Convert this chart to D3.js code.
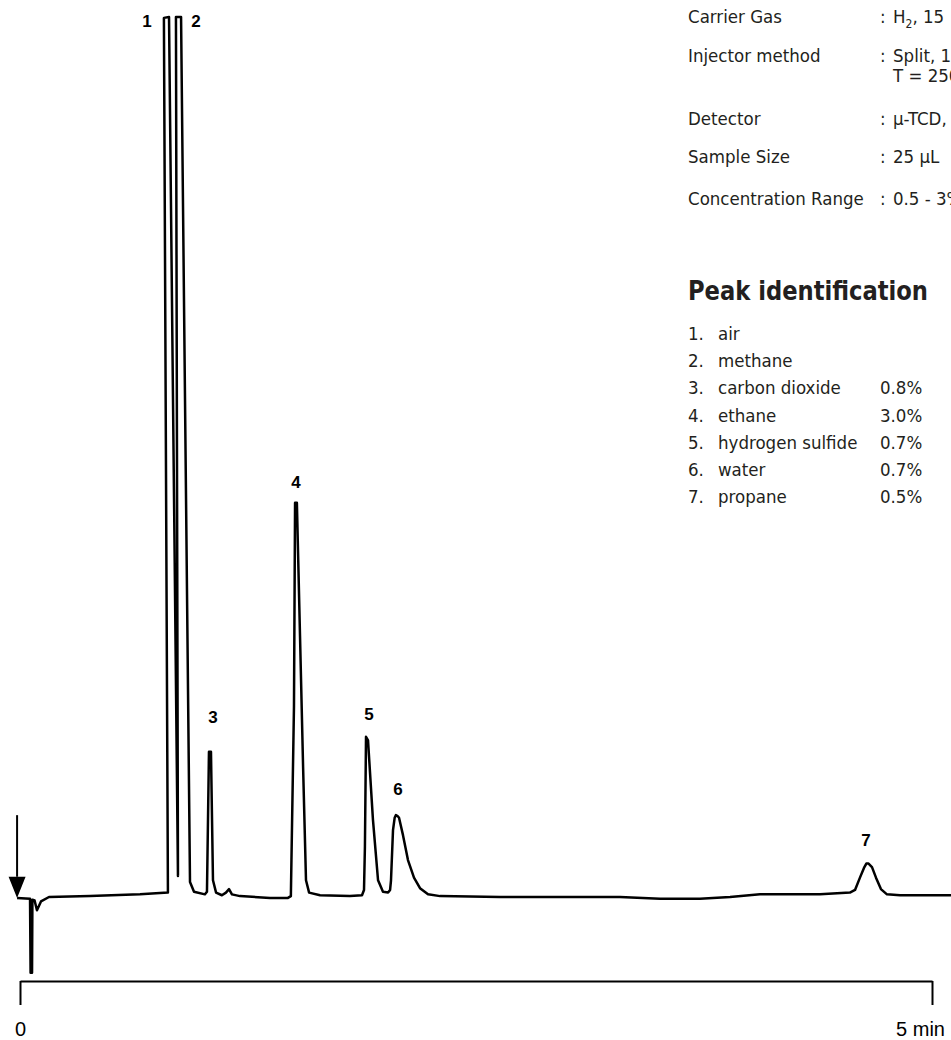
<!DOCTYPE html>
<html>
<head>
<meta charset="utf-8">
<script src="https://cdn.jsdelivr.net/npm/d3@7"></script>
<style>
  body { margin: 0; background: #fff; }
  .info { font-family: "DejaVu Sans Condensed", "Liberation Sans Narrow", sans-serif; fill: #231f20; }
  .peaklbl { font-family: "Liberation Sans", Arial, sans-serif; fill: #000; }
</style>
</head>
<body>
<div id="chart"></div>
<script>
// chromatogram trace: [time (min), signal (% of full scale)]
var trace = [
  [-0.016, -0.1], [0.055, -0.2], [0.058, -8.6], [0.066, -8.6], [0.068, -0.3],
  [0.080, -0.4], [0.093, -1.5], [0.115, -0.5], [0.159, 0.0], [0.384, 0.1],
  [0.658, 0.3], [0.811, 0.5], [0.789, 99.9], [0.817, 100], [0.866, 2.4],
  [0.855, 100], [0.883, 100], [0.932, 1.7], [0.954, 0.6], [1.014, 0.3],
  [1.025, 0.6], [1.036, 16.5], [1.047, 16.5], [1.058, 1.9], [1.075, 0.5],
  [1.107, 0.2], [1.129, 0.5], [1.146, 0.9], [1.162, 0.3], [1.206, 0.1],
  [1.371, -0.1], [1.469, -0.1], [1.485, 0.1], [1.502, 21.6], [1.508, 44.8],
  [1.518, 44.8], [1.552, 14.8], [1.568, 1.9], [1.585, 0.5], [1.645, 0.2],
  [1.809, 0.1], [1.875, 0.2], [1.886, 0.8], [1.891, 5.7], [1.897, 18.2],
  [1.908, 17.8], [1.935, 8.8], [1.963, 1.9], [1.990, 0.6], [2.018, 0.5],
  [2.029, 0.8], [2.034, 1.9], [2.045, 7.6], [2.054, 9.0], [2.061, 9.3],
  [2.070, 9.2], [2.078, 9.0], [2.100, 7.0], [2.127, 4.2], [2.160, 2.2],
  [2.193, 1.0], [2.237, 0.3], [2.303, 0.1], [2.632, 0.0], [2.961, 0.0],
  [3.289, 0.0], [3.509, -0.2], [3.728, -0.2], [3.893, 0.0], [4.057, 0.3],
  [4.386, 0.3], [4.550, 0.5], [4.578, 0.8], [4.605, 2.2], [4.627, 3.3],
  [4.640, 3.8], [4.652, 3.8], [4.671, 3.4], [4.693, 2.2], [4.720, 0.9],
  [4.753, 0.3], [4.825, 0.2], [5.104, 0.2]
];

// peak number labels
var peakNames = ["1", "2", "3", "4", "5", "6", "7"];
var peakLabelTime = [0.696, 0.965, 1.058, 1.513, 1.913, 2.072, 4.638];
var peakLabelSignal = [99.5, 99.5, 20.5, 47.2, 20.8, 12.3, 6.5];

// injection marker
var injectTime = -0.016;
var injectTop = 9.3, injectHead = 2.3, injectTip = -0.1;

// time axis
var axisTicks = [0, 5];
var axisTickLabels = ["0", "5 min"];

// conditions table (values run off the right edge in the original)
var condLabels = ["Carrier Gas", "Injector method", "", "Detector", "Sample Size", "Concentration Range"];
var condValues = ["H|2|, 15", "Split, 1", "T = 250", "µ-TCD,", "25 µL", "0.5 - 3%"];

// peak identification list
var compounds = ["air", "methane", "carbon dioxide", "ethane", "hydrogen sulfide", "water", "propane"];
var concentrations = ["", "", "0.8%", "3.0%", "0.7%", "0.7%", "0.5%"];

var W = 951, H = 1040;
var condBaselines = [23, 62, 82, 125, 163, 205];

var x = d3.scaleLinear().domain([0, 5]).range([20, 932]);
var y = d3.scaleLinear().domain([0, 100]).range([897, 17]);

var svg = d3.select("#chart").append("svg")
    .attr("width", W)
    .attr("height", H);

// trace
var line = d3.line()
    .x(function(d) { return x(d[0]); })
    .y(function(d) { return y(d[1]); });

svg.append("path")
    .datum(trace)
    .attr("d", line)
    .attr("fill", "none")
    .attr("stroke", "#000")
    .attr("stroke-width", 2.5)
    .attr("stroke-linejoin", "round");

// injection arrow
var ax = x(injectTime);
svg.append("line")
    .attr("x1", ax).attr("x2", ax)
    .attr("y1", y(injectTop)).attr("y2", y(injectHead))
    .attr("stroke", "#000").attr("stroke-width", 2);
svg.append("path")
    .attr("d", "M" + (ax - 8.5) + "," + y(injectHead) + "L" + (ax + 8.5) + "," + y(injectHead) + "L" + ax + "," + y(injectTip) + "Z")
    .attr("fill", "#000");

// peak labels
svg.selectAll(".peaklbl")
    .data(peakNames)
  .enter().append("text")
    .attr("class", "peaklbl")
    .attr("x", function(d, i) { return x(peakLabelTime[i]); })
    .attr("y", function(d, i) { return y(peakLabelSignal[i]); })
    .attr("dy", "0.35em")
    .attr("text-anchor", "middle")
    .style("font-size", "17px")
    .style("font-weight", "bold")
    .text(function(d) { return d; });

// time axis (bracket)
var xAxis = svg.append("g")
    .attr("transform", "translate(0,981)")
    .call(d3.axisBottom(x).tickValues(axisTicks).tickSizeInner(24).tickSizeOuter(0)
      .tickFormat(function(d, i) { return axisTickLabels[i]; }));
xAxis.select(".domain").attr("stroke", "#000").attr("stroke-width", 2);
xAxis.selectAll(".tick line").attr("stroke", "#000").attr("stroke-width", 2);
xAxis.selectAll(".tick text")
    .attr("class", "peaklbl")
    .attr("y", 48)
    .attr("dy", "0.35em")
    .attr("dx", function(d, i) { return i === 1 ? -12 : 0; })
    .style("font-size", "20px")
    .attr("fill", "#000");

// conditions
var cond = svg.append("g").attr("class", "info").style("font-size", "18.5px");
condLabels.forEach(function(lbl, i) {
  var yy = condBaselines[i];
  if (lbl) {
    cond.append("text").attr("x", 688).attr("y", yy).text(lbl);
    cond.append("text").attr("x", 880).attr("y", yy).text(":");
  }
  var parts = condValues[i].split("|");
  var t = cond.append("text").attr("x", 893).attr("y", yy);
  t.append("tspan").text(parts[0]);
  if (parts.length > 1) {
    t.append("tspan").attr("dy", 5).style("font-size", "12px").text(parts[1]);
    t.append("tspan").attr("dy", -5).text(parts[2]);
  }
});

// peak identification
svg.append("text")
    .attr("class", "info")
    .attr("x", 688).attr("y", 300)
    .attr("textLength", 240)
    .attr("lengthAdjust", "spacingAndGlyphs")
    .style("font-size", "27px")
    .style("font-weight", "bold")
    .text("Peak identification");

var list = svg.append("g").attr("class", "info").style("font-size", "18.5px");
compounds.forEach(function(c, i) {
  var yy = 340 + i * 27.2;
  list.append("text").attr("x", 688).attr("y", yy).text((i + 1) + ".");
  list.append("text").attr("x", 718).attr("y", yy).text(c);
  list.append("text").attr("x", 880).attr("y", yy).text(concentrations[i]);
});
</script>
</body>
</html>
